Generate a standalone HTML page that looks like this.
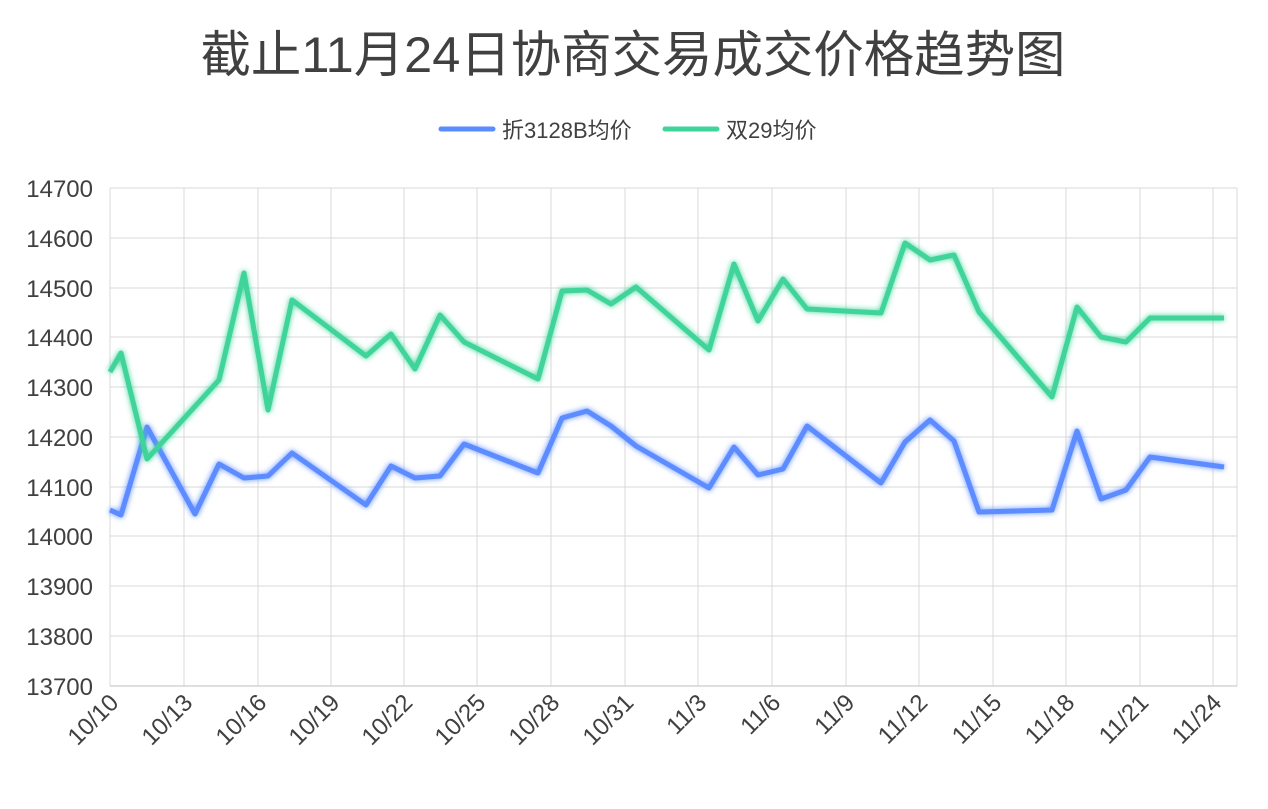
<!DOCTYPE html>
<html><head><meta charset="utf-8"><style>
body{margin:0;background:#fff;width:1268px;height:804px;overflow:hidden}
text{font-family:"Liberation Sans","Noto Sans CJK SC",sans-serif}
</style></head><body>
<svg width="1268" height="804" xmlns="http://www.w3.org/2000/svg">
<defs>
<filter id="gb" x="-10%" y="-10%" width="120%" height="120%"><feGaussianBlur stdDeviation="3" result="b"/><feMerge><feMergeNode in="b"/><feMergeNode in="SourceGraphic"/></feMerge></filter>
</defs>
<text x="633" y="72" text-anchor="middle" font-size="50" fill="#404040" textLength="865" lengthAdjust="spacingAndGlyphs">截止11月24日协商交易成交价格趋势图</text>
<line x1="441" y1="129" x2="493" y2="129" stroke="#5b8cff" stroke-width="5" stroke-linecap="round"/>
<text x="502" y="138" font-size="22" fill="#404040">折3128B均价</text>
<line x1="665" y1="129" x2="717" y2="129" stroke="#3fd49a" stroke-width="5" stroke-linecap="round"/>
<text x="726" y="138" font-size="22" fill="#404040">双29均价</text>
<g stroke="#d9d9d9" stroke-width="1">
<line x1="110" y1="188" x2="1237" y2="188"/><line x1="110" y1="238" x2="1237" y2="238"/><line x1="110" y1="288" x2="1237" y2="288"/><line x1="110" y1="337" x2="1237" y2="337"/><line x1="110" y1="387" x2="1237" y2="387"/><line x1="110" y1="437" x2="1237" y2="437"/><line x1="110" y1="487" x2="1237" y2="487"/><line x1="110" y1="536" x2="1237" y2="536"/><line x1="110" y1="586" x2="1237" y2="586"/><line x1="110" y1="636" x2="1237" y2="636"/>
<line x1="110" y1="188" x2="110" y2="686"/><line x1="184" y1="188" x2="184" y2="686"/><line x1="258" y1="188" x2="258" y2="686"/><line x1="331" y1="188" x2="331" y2="686"/><line x1="404" y1="188" x2="404" y2="686"/><line x1="477" y1="188" x2="477" y2="686"/><line x1="551" y1="188" x2="551" y2="686"/><line x1="625" y1="188" x2="625" y2="686"/><line x1="698" y1="188" x2="698" y2="686"/><line x1="772" y1="188" x2="772" y2="686"/><line x1="846" y1="188" x2="846" y2="686"/><line x1="919" y1="188" x2="919" y2="686"/><line x1="993" y1="188" x2="993" y2="686"/><line x1="1066" y1="188" x2="1066" y2="686"/><line x1="1140" y1="188" x2="1140" y2="686"/><line x1="1213" y1="188" x2="1213" y2="686"/><line x1="1237" y1="188" x2="1237" y2="686"/>
</g>
<line x1="110" y1="686" x2="1237" y2="686" stroke="#bfbfbf" stroke-width="1"/>
<g font-size="24" fill="#404040" text-anchor="end">
<text x="93" y="197">14700</text><text x="93" y="247">14600</text><text x="93" y="297">14500</text><text x="93" y="346">14400</text><text x="93" y="396">14300</text><text x="93" y="446">14200</text><text x="93" y="496">14100</text><text x="93" y="545">14000</text><text x="93" y="595">13900</text><text x="93" y="645">13800</text><text x="93" y="695">13700</text>
</g>
<g font-size="24" fill="#404040" text-anchor="end">
<text transform="translate(120,704) rotate(-45)">10/10</text><text transform="translate(194,704) rotate(-45)">10/13</text><text transform="translate(268,704) rotate(-45)">10/16</text><text transform="translate(341,704) rotate(-45)">10/19</text><text transform="translate(414,704) rotate(-45)">10/22</text><text transform="translate(487,704) rotate(-45)">10/25</text><text transform="translate(561,704) rotate(-45)">10/28</text><text transform="translate(635,704) rotate(-45)">10/31</text><text transform="translate(708,704) rotate(-45)">11/3</text><text transform="translate(782,704) rotate(-45)">11/6</text><text transform="translate(856,704) rotate(-45)">11/9</text><text transform="translate(929,704) rotate(-45)">11/12</text><text transform="translate(1003,704) rotate(-45)">11/15</text><text transform="translate(1076,704) rotate(-45)">11/18</text><text transform="translate(1150,704) rotate(-45)">11/21</text><text transform="translate(1223,704) rotate(-45)">11/24</text>
</g>
<polyline filter="url(#gb)" fill="none" stroke="#5b8cff" stroke-width="5" stroke-linejoin="round" points="110,510 121,515 147,427 195,514 219,464 244,478 268,476 292,453 366,505 391,466 415,478 440,476 464,444 538,473 562,418 587,411 611,426 636,446 709,488 734,447 758,475 783,469 807,426 881,483 905,442 930,420 954,441 979,512 1052,510 1077,431 1101,499 1126,490 1150,457 1224,467"/>
<polyline filter="url(#gb)" fill="none" stroke="#3fd49a" stroke-width="5" stroke-linejoin="round" points="110,372 121,353 147,459 219,380 244,273 268,410 292,300 366,356 391,334 415,369 440,315 464,342 538,379 562,291 587,290 611,304 636,287 709,350 734,264 758,321 783,279 807,309 881,313 905,243 930,260 954,255 979,312 1052,397 1077,307 1101,337 1126,342 1150,318 1224,318"/>
</svg>
</body></html>
